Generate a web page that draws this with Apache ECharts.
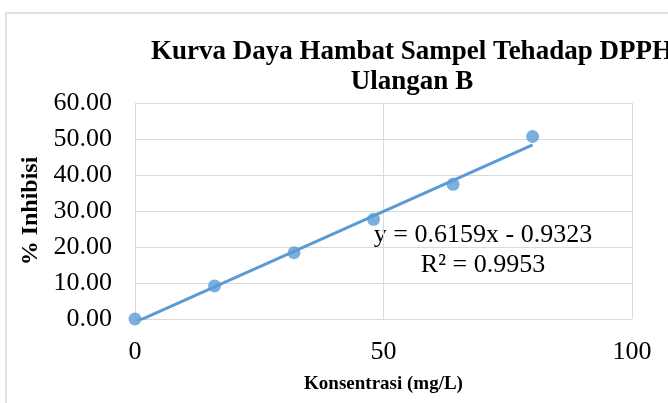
<!DOCTYPE html>
<html>
<head>
<meta charset="utf-8">
<script src="https://cdn.jsdelivr.net/npm/echarts@6/dist/echarts.min.js"></script>
<style>html,body{margin:0;padding:0;background:#fff}#demo{width:668px;height:403px}</style>
</head>
<body>
<div id="demo"></div>
<script>
var konsentrasi = [0, 16, 32, 48, 64, 80];
var inhibisi = [0.00, 9.2, 18.4, 27.7, 37.4, 50.7];
var trendX = [0, 80];
var trendY = [-0.93, 48.34];
var persamaan = 'y = 0.6159x - 0.9323';
var rKuadrat = 'R² = 0.9953';

var font = '"Liberation Serif", "Times New Roman", serif';
var biru = '#5b9bd5';

var titik = konsentrasi.map(function (x, i) { return [x, inhibisi[i]]; });
var garis = trendX.map(function (x, i) { return [x, trendY[i]]; });

var option = {
    animation: false,
    title: {
        text: 'Kurva Daya Hambat Sampel Tehadap DPPH\nUlangan B',
        left: 407,
        textAlign: 'center',
        top: 32,
        textStyle: { fontFamily: font, fontSize: 27, fontWeight: 'bold', color: '#000', lineHeight: 30 }
    },
    grid: { left: 135, right: 36, top: 103, bottom: 84 },
    xAxis: {
        type: 'value', min: 0, max: 100, interval: 50,
        name: 'Konsentrasi (mg/L)', nameLocation: 'middle', nameGap: 56,
        nameTextStyle: { fontFamily: font, fontSize: 19, fontWeight: 'bold', color: '#000' },
        axisLine: { show: false }, axisTick: { show: false },
        axisLabel: { fontFamily: font, fontSize: 26, color: '#000', margin: 20 },
        splitLine: { lineStyle: { color: '#d9d9d9', width: 1 } }
    },
    yAxis: {
        type: 'value', min: 0, max: 60, interval: 10,
        name: '% Inhibisi', nameLocation: 'middle', nameGap: 90,
        nameTextStyle: { fontFamily: font, fontSize: 24, fontWeight: 'bold', color: '#000' },
        axisLine: { show: false }, axisTick: { show: false },
        axisLabel: { fontFamily: font, fontSize: 26, color: '#000', margin: 23,
            formatter: function (v) { return v.toFixed(2); } },
        splitLine: { lineStyle: { color: '#d9d9d9', width: 1 } }
    },
    graphic: [
        { type: 'rect', shape: { x: 6, y: 13, width: 700, height: 420 }, style: { fill: 'none', stroke: '#d9d9d9', lineWidth: 1.5 }, z: -10 },
        { type: 'text', x: 483, y: 235, style: { text: persamaan, fontFamily: font, fontSize: 26, fill: '#000', align: 'center', verticalAlign: 'middle' } },
        { type: 'text', x: 483, y: 265, style: { text: rKuadrat, fontFamily: font, fontSize: 26, fill: '#000', align: 'center', verticalAlign: 'middle' } }
    ],
    series: [
        {
            type: 'line', data: garis, symbol: 'none', clip: true,
            lineStyle: { color: biru, width: 3 }, z: 2
        },
        {
            type: 'scatter', data: titik, symbol: 'circle', symbolSize: 13,
            itemStyle: { color: biru }, z: 3
        }
    ]
};
var myChart = echarts.init(document.getElementById('demo'));
myChart.setOption(option);
</script>
</body>
</html>
